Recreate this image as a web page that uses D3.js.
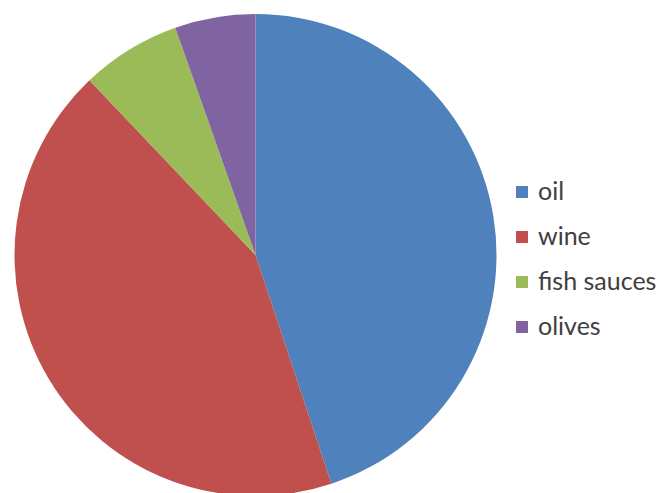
<!DOCTYPE html>
<html><head><meta charset="utf-8">
<script src="https://cdn.jsdelivr.net/npm/d3@7"></script>
<style>html,body{margin:0;padding:0;background:#fff;}</style>
</head><body>
<svg id="chart" width="666" height="493"></svg>
<script>
const categories = ["oil", "wine", "fish sauces", "olives"];
const values = [44.9, 43.0, 6.7, 5.4];
const colors = ["#4F81BD", "#C0504D", "#9BBB59", "#8064A2"];

const svg = d3.select("#chart");
const cx = 255.5, cy = 255, r = 241;
const pie = d3.pie().sort(null).value(d => d.v);
const data = categories.map((c, i) => ({c, v: values[i], col: colors[i]}));
const arc = d3.arc().innerRadius(0).outerRadius(r);
svg.append("g").attr("transform", `translate(${cx},${cy})`)
  .selectAll("path").data(pie(data)).join("path")
  .attr("d", arc).attr("fill", d => d.data.col);

const lg = svg.append("g").attr("transform", "translate(516,0)");
const rows = lg.selectAll("g").data(data).join("g")
  .attr("transform", (d, i) => `translate(0,${200 + i * 45})`);
rows.append("rect").attr("x", 0).attr("y", -14).attr("width", 12).attr("height", 12).attr("fill", d => d.col);
rows.append("text").attr("x", 22).attr("y", 0)
  .attr("font-family", "Lato, 'Open Sans', sans-serif").attr("font-size", 25).attr("fill", "#404040")
  .text(d => d.c);
</script>
</body></html>
